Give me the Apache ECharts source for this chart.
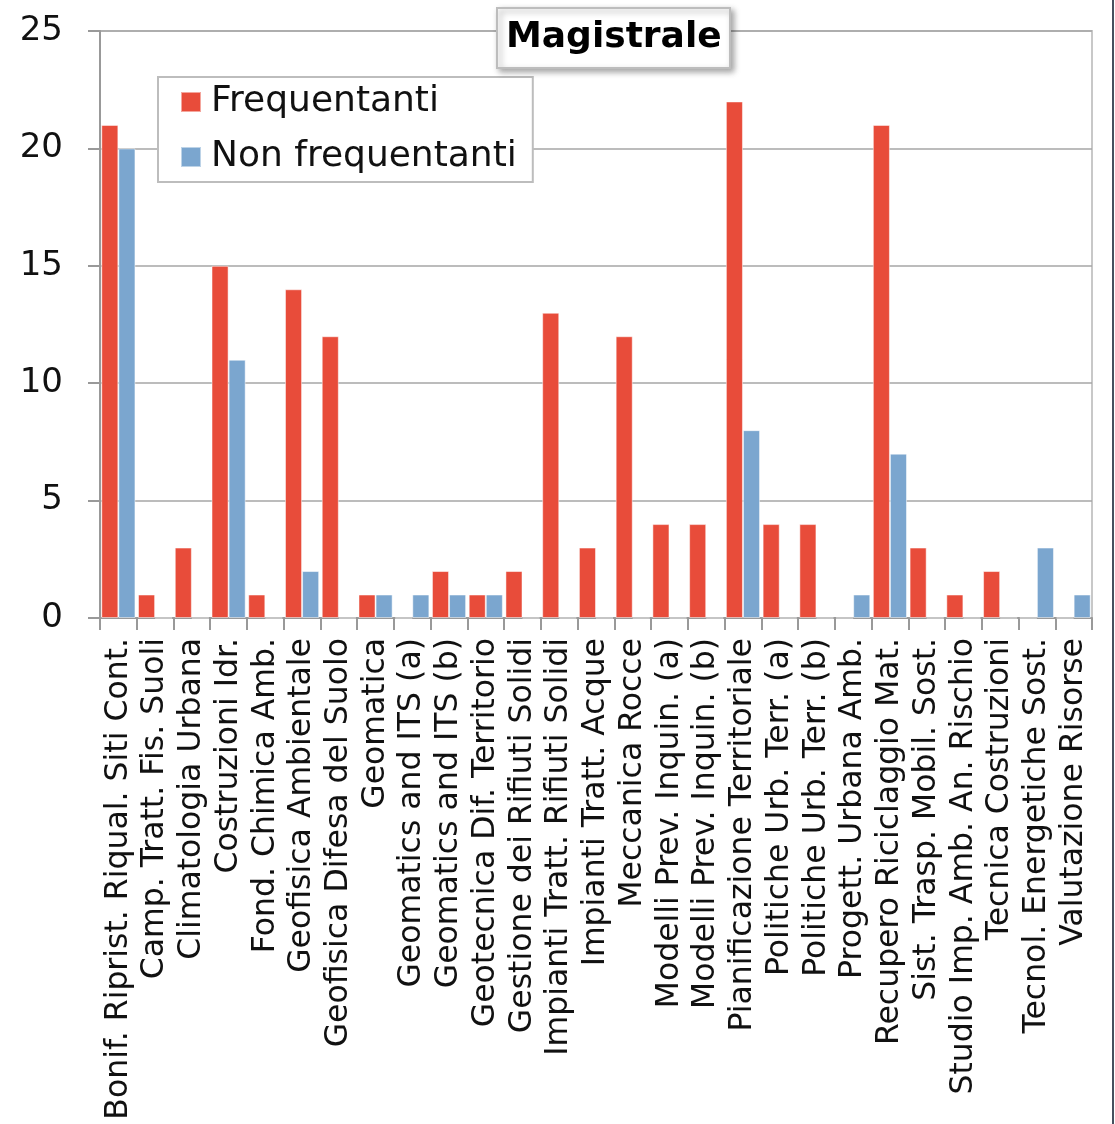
<!DOCTYPE html>
<html>
<head>
<meta charset="utf-8">
<script src="https://cdn.jsdelivr.net/npm/echarts@6/dist/echarts.min.js"></script>
<style>
html,body{margin:0;padding:0;background:#fff;}
#main{width:1115px;height:1124px;}
</style>
</head>
<body>
<div id="main"></div>
<script>
const categories = [
  "Bonif. Riprist. Riqual. Siti Cont.",
  "Camp. Tratt. Fis. Suoli",
  "Climatologia Urbana",
  "Costruzioni Idr.",
  "Fond. Chimica Amb.",
  "Geofisica Ambientale",
  "Geofisica Difesa del Suolo",
  "Geomatica",
  "Geomatics and ITS (a)",
  "Geomatics and ITS (b)",
  "Geotecnica Dif. Territorio",
  "Gestione dei Rifiuti Solidi",
  "Impianti Tratt. Rifiuti Solidi",
  "Impianti Tratt. Acque",
  "Meccanica Rocce",
  "Modelli Prev. Inquin. (a)",
  "Modelli Prev. Inquin. (b)",
  "Pianificazione Territoriale",
  "Politiche Urb. Terr. (a)",
  "Politiche Urb. Terr. (b)",
  "Progett. Urbana Amb.",
  "Recupero Riciclaggio Mat.",
  "Sist. Trasp. Mobil. Sost.",
  "Studio Imp. Amb. An. Rischio",
  "Tecnica Costruzioni",
  "Tecnol. Energetiche Sost.",
  "Valutazione Risorse"
];
const frequentanti =    [21, 1, 3, 15, 1, 14, 12, 1, 0, 2, 1, 2, 13, 3, 12, 4, 4, 22, 4, 4, 0, 21, 3, 1, 2, 0, 0];
const nonFrequentanti = [20, 0, 0, 11, 0, 2, 0, 1, 1, 1, 1, 0, 0, 0, 0, 0, 0, 8, 0, 0, 1, 7, 0, 0, 0, 3, 1];
const yTicks = [0, 5, 10, 15, 20, 25];
const seriesNames = ["Frequentanti", "Non frequentanti"];
const titleText = "Magistrale";

const FONT = "DejaVu Sans";
const chart = echarts.init(document.getElementById('main'), null, {renderer: 'canvas'});
chart.setOption({
  animation: false,
  backgroundColor: '#ffffff',
  color: ['#E84C3A', '#7BA6CF'],
  title: {
    text: titleText,
    left: 497, top: 8,
    padding: [10, 9, 10, 9],
    backgroundColor: '#ffffff',
    borderColor: '#bdbdbd',
    borderWidth: 2,
    shadowBlur: 6,
    shadowColor: 'rgba(0,0,0,0.35)',
    shadowOffsetX: 3,
    shadowOffsetY: 3,
    textStyle: {fontFamily: FONT, fontWeight: 'bold', fontSize: 36, color: '#000', lineHeight: 40}
  },
  legend: {
    data: seriesNames,
    orient: 'vertical',
    left: 158, top: 77,
    padding: [5, 16, 5, 22],
    itemGap: 15,
    itemWidth: 20, itemHeight: 20,
    icon: 'rect',
    backgroundColor: '#ffffff',
    borderColor: '#bdbdbd',
    borderWidth: 2,
    textStyle: {fontFamily: FONT, fontSize: 36, color: '#111', lineHeight: 40, padding: [0, 0, 0, 5]}
  },
  graphic: [{
    type: 'line', silent: true,
    shape: {x1: 1113, y1: 0, x2: 1113, y2: 1124},
    style: {stroke: '#46505e', lineWidth: 2}
  }],
  grid: {
    left: 100, right: 23, top: 31, bottom: 506,
    show: true, borderColor: '#c8c8c8', borderWidth: 2, backgroundColor: 'transparent'
  },
  xAxis: {
    type: 'category',
    data: categories,
    axisLine: {show: true, lineStyle: {color: '#999', width: 2}},
    axisTick: {show: true, length: 12, interval: 0, alignWithLabel: false, lineStyle: {color: '#999', width: 2}},
    axisLabel: {rotate: 90, interval: 0, margin: 20, fontFamily: FONT, fontSize: 31.5, color: '#111'},
    splitLine: {show: false}
  },
  yAxis: {
    type: 'value',
    min: 0, max: 25, interval: 5,
    axisLine: {show: true, lineStyle: {color: '#999', width: 2}},
    axisTick: {show: true, length: 12, lineStyle: {color: '#999', width: 2}},
    axisLabel: {margin: 37, fontFamily: FONT, fontSize: 34, color: '#111',
      formatter: v => yTicks.includes(v) ? String(v) : ''},
    splitLine: {show: true, lineStyle: {color: '#a6a6a6', width: 1.5}}
  },
  series: [
    {name: seriesNames[0], type: 'bar', data: frequentanti, barGap: '0%', barCategoryGap: '7%',
     itemStyle: {borderColor: 'rgba(255,255,255,0.5)', borderWidth: 1}},
    {name: seriesNames[1], type: 'bar', data: nonFrequentanti, barGap: '0%', barCategoryGap: '7%',
     itemStyle: {borderColor: 'rgba(255,255,255,0.5)', borderWidth: 1}}
  ]
});
</script>
</body>
</html>
